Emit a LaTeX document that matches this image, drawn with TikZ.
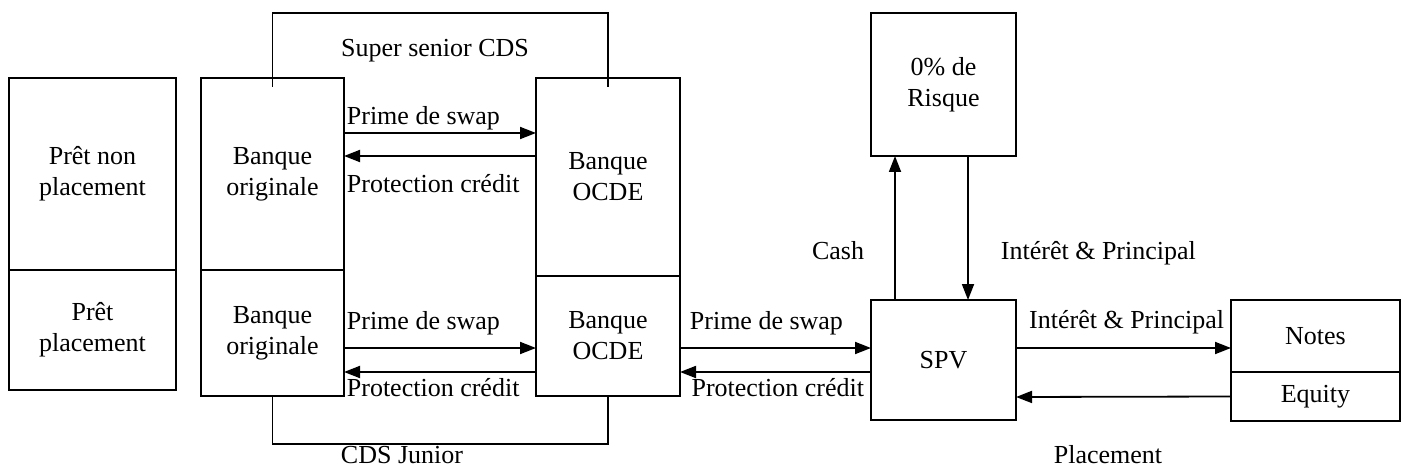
\documentclass[tikz,border=0pt]{standalone}
\usepackage{fontspec}
\setmainfont{Liberation Serif}
\usetikzlibrary{arrows.meta}

\begin{document}
\begin{tikzpicture}[x=0.5pt,y=-0.5pt,>={Triangle[length=8pt,width=6pt]},line width=0.9pt,font=\fontsize{13}{15.5}\selectfont]
  \tikzstyle{bloc}=[draw,align=center,inner sep=0pt,outer sep=0pt]
  \tikzstyle{lbl}=[inner sep=0pt]

  \useasboundingbox (0,0) rectangle (1407,470);

  % blocs
  \node[bloc,minimum width=83.5pt,minimum height=96pt] (pretA)  at (92.5,174)    {Prêt non\\placement};
  \node[bloc,minimum width=83.5pt,minimum height=60pt] (pretB)  at (92.5,330)    {Prêt\\placement};
  \node[bloc,minimum width=71.5pt,minimum height=96pt] (origA)  at (272.5,174)   {Banque\\originale};
  \node[bloc,minimum width=71.5pt,minimum height=63pt] (origB)  at (272.5,333)   {Banque\\originale};
  \node[bloc,minimum width=72pt,minimum height=99pt]   (ocdeA)  at (608,177)     {Banque\\OCDE};
  \node[bloc,minimum width=72pt,minimum height=60pt]   (ocdeB)  at (608,336)     {Banque\\OCDE};
  \node[bloc,minimum width=72.5pt,minimum height=71.5pt] (risque) at (943.5,84.5) {0\% de\\Risque};
  \node[bloc,minimum width=72.5pt,minimum height=60pt] (spv)    at (943.5,360)   {SPV};
  \node[bloc,minimum width=84.5pt,minimum height=36pt] (notes)  at (1315.5,336)  {Notes};
  \node[bloc,minimum width=84.5pt,minimum height=24.5pt] (equity) at (1315.5,396.5) {Equity};

  \coordinate (seniorTop) at (440,13);
  \coordinate (juniorBot) at (440,444);

  % CDS
  \draw ([yshift=-4.5pt]origA.north) |- (seniorTop) -| ([yshift=-4.5pt]ocdeA.north);
  \draw (origB.south) |- (juniorBot) -| (ocdeB.south);
  \node[lbl,anchor=base] (senior)  at (435,57)   {Super senior CDS};
  \node[lbl,anchor=base] (junior)  at (402,463)  {CDS Junior};
  \node[lbl,anchor=base] (placmt)  at (1108,463) {Placement};

  % flux
  \draw[->] ([yshift=20.5pt]origA.east) -- node[lbl,pos=0,anchor=base west,xshift=1pt,yshift=4pt] {Prime de swap} ([yshift=22pt]ocdeA.west);
  \draw[->] ([yshift=10.5pt]ocdeA.west) -- node[lbl,pos=1,anchor=base west,xshift=1pt,yshift=-18.5pt] {Protection crédit} ([yshift=9pt]origA.east);
  \draw[->] ([yshift=-7.5pt]origB.east) -- node[lbl,pos=0,anchor=base west,xshift=1pt,yshift=9.5pt] {Prime de swap} ([yshift=-6pt]ocdeB.west);
  \draw[->] ([yshift=-18pt]ocdeB.west) -- node[lbl,pos=1,anchor=base west,xshift=1pt,yshift=-12pt] {Protection crédit} ([yshift=-19.5pt]origB.east);
  \draw[->] ([yshift=-6pt]ocdeB.east) -- node[lbl,pos=0,anchor=base west,xshift=4.5pt,yshift=9.5pt] {Prime de swap} ([yshift=6pt]spv.west);
  \draw[->] ([yshift=-6pt]spv.west) -- node[lbl,pos=0,anchor=base east,xshift=-3pt,yshift=-12pt] {Protection crédit} ([yshift=-18pt]ocdeB.east);
  \draw[->] ([xshift=-24.25pt]spv.north) -- node[lbl,pos=0.278,anchor=base east,xshift=-15pt] {Cash} ([xshift=-24.25pt]risque.south);
  \draw[->] ([xshift=12.25pt]risque.south) -- node[lbl,pos=0.722,anchor=base west,xshift=16pt] {Intérêt \& Principal} ([xshift=12.25pt]spv.north);
  \draw[->] ([yshift=6pt]spv.east) -- node[lbl,pos=1,anchor=base east,xshift=-3pt,yshift=10pt] {Intérêt \& Principal} ([yshift=-6pt]notes.west);
  \draw[->] (equity.west) -- ([yshift=-18.5pt]spv.east);
\end{tikzpicture}
\end{document}
